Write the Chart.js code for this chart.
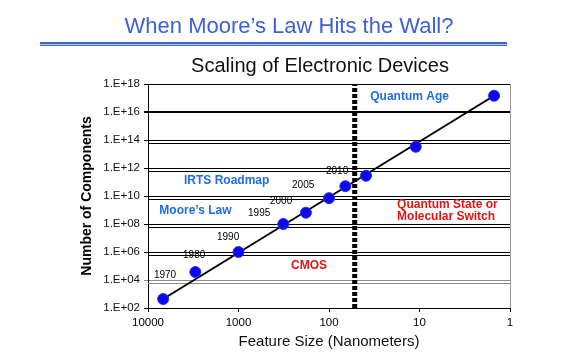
<!DOCTYPE html>
<html>
<head>
<meta charset="utf-8">
<script src="https://cdn.jsdelivr.net/npm/chart.js@4"></script>
<style>
    body { margin: 0; background: #fff; }
    #page {
        position: relative;
        width: 581px;
        height: 359px;
        overflow: hidden;
        font-family: 'Liberation Sans', Arial, sans-serif;
    }
    #page canvas { position: absolute; left: 0; top: 0; }
    #header {
        position: absolute; left: 0; top: 15px; width: 578px;
        text-align: center; font-size: 22px; line-height: 22px; color: #3d5fd9;
    }
    #rule {
        position: absolute; left: 40px; top: 42px; width: 467px; height: 1px;
        border-top: 2px solid #4565c0; border-bottom: 1px solid #4565c0; background: #b8c4ea;
    }
    #title {
        position: absolute; left: 0; top: 55px; width: 640px;
        text-align: center; font-size: 20px; line-height: 20px; color: #111;
    }
</style>
</head>
<body>
<div id="page">
    <canvas id="chart" width="581" height="359"></canvas>
    <div id="header">When Moore’s Law Hits the Wall?</div>
    <div id="rule"></div>
    <div id="title">Scaling of Electronic Devices</div>
</div>
<script>
// Data

const featureSize = [6800, 3000, 1000, 320, 180, 100, 66, 39, 11, 1.5];
const components = [440, 3.7e4, 1e6, 1e8, 6.4e8, 7e9, 5e10, 2.8e11, 3.3e13, 1.45e17];
const trendSize = [6800, 1.5];
const trendCount = [440, 1.45e17];
const wallSize = 52;
const xTicks = [10000, 1000, 100, 10, 1];
const yTicks = [1e2, 1e4, 1e6, 1e8, 1e10, 1e12, 1e14, 1e16, 1e18];

// Notes on the plot (anchored in data space: feature size, components)

const blue = '#1f6ee0';
const red = '#e01515';
const boldFont = 'bold 12px "Liberation Sans", Arial, sans-serif';
const yearFont = '10px "Liberation Sans", Arial, sans-serif';

const notes = [
    { text: 'Quantum Age', x: 35, y: 1.2e17, color: blue, font: boldFont },
    { text: 'IRTS Roadmap', x: 4000, y: 1.2e11, color: blue, font: boldFont },
    { text: 'Moore’s Law', x: 7500, y: 8.5e8, color: blue, font: boldFont },
    { text: 'Quantum State or', x: 17.7, y: 2.3e9, color: red, font: boldFont },
    { text: 'Molecular Switch', x: 17.7, y: 3.2e8, color: red, font: boldFont },
    { text: 'CMOS', x: 263, y: 1e5, color: red, font: boldFont },
    { text: '1970', x: 8600, y: 2.3e4, color: '#000', font: yearFont },
    { text: '1980', x: 4100, y: 6e5, color: '#000', font: yearFont },
    { text: '1990', x: 1730, y: 1.2e7, color: '#000', font: yearFont },
    { text: '1995', x: 785, y: 6e8, color: '#000', font: yearFont },
    { text: '2000', x: 449, y: 4.4e9, color: '#000', font: yearFont },
    { text: '2005', x: 256, y: 6e10, color: '#000', font: yearFont },
    { text: '2010', x: 108, y: 6e11, color: '#000', font: yearFont }
];

// grid rules that look doubled in the original
const doubled = [1e4, 1e6, 1e8, 1e10, 1e12, 1e14];

const decor = {
    id: 'decor',
    beforeDatasetsDraw(chart) {
        const { ctx, chartArea: a, scales: { y } } = chart;
        ctx.save();
        ctx.lineWidth = 1;
        doubled.forEach(v => {
            const p = Math.round(y.getPixelForValue(v) - 0.5) + 3.5;
            ctx.strokeStyle = v === 1e4 ? '#8a8a8a' : '#000';
            ctx.beginPath();
            ctx.moveTo(a.left, p);
            ctx.lineTo(a.right, p);
            ctx.stroke();
        });
        // right border
        ctx.strokeStyle = '#999';
        ctx.beginPath();
        ctx.moveTo(a.right + 0.5, a.top);
        ctx.lineTo(a.right + 0.5, a.bottom);
        ctx.stroke();
        ctx.restore();
    },
    afterDatasetsDraw(chart) {
        const { ctx, scales: { x, y } } = chart;
        ctx.save();
        ctx.textAlign = 'left';
        ctx.textBaseline = 'middle';
        notes.forEach(n => {
            ctx.font = n.font;
            ctx.fillStyle = n.color;
            ctx.fillText(n.text, x.getPixelForValue(n.x), y.getPixelForValue(n.y));
        });
        ctx.restore();
    }
};

// Chart

const config = {
    type: 'scatter',
    data: {
        datasets: [
            {
                label: 'Devices',
                data: featureSize.map((s, i) => ({ x: s, y: components[i] })),
                pointRadius: 5.5,
                pointBackgroundColor: '#0a0ae6',
                pointBorderColor: '#2b2bff',
                pointBorderWidth: 1
            },
            {
                label: 'Trend',
                data: trendSize.map((s, i) => ({ x: s, y: trendCount[i] })),
                showLine: true,
                borderColor: '#000',
                borderWidth: 2,
                pointRadius: 0
            },
            {
                label: 'Wall',
                data: [{ x: wallSize, y: yTicks[0] }, { x: wallSize, y: yTicks[yTicks.length - 1] }],
                showLine: true,
                borderColor: '#000',
                borderWidth: 5,
                borderDash: [4, 2],
                borderCapStyle: 'butt',
                pointRadius: 0
            }
        ]
    },
    options: {
        responsive: false,
        animation: false,
        layout: { padding: { left: 70, right: 71, top: 84, bottom: 0 } },
        plugins: {
            legend: { display: false },
            tooltip: { enabled: false }
        },
        scales: {
            x: {
                type: 'logarithmic',
                reverse: true,
                min: 1,
                max: 10000,
                afterBuildTicks: scale => { scale.ticks = xTicks.map(v => ({ value: v })); },
                afterFit: scale => { scale.height = 51; },
                ticks: {
                    callback: v => String(v),
                    color: '#000',
                    font: { family: '"Liberation Sans", Arial, sans-serif', size: 11.5 },
                    padding: 4,
                    maxRotation: 0,
                    autoSkip: false
                },
                grid: { drawOnChartArea: false, tickLength: 4, color: '#000' },
                border: { color: '#000', width: 1 },
                title: {
                    display: true,
                    text: 'Feature Size (Nanometers)',
                    color: '#111',
                    font: { family: '"Liberation Sans", Arial, sans-serif', size: 15 },
                    padding: { top: 0, bottom: 8 }
                }
            },
            y: {
                type: 'logarithmic',
                min: 1e2,
                max: 1e18,
                afterBuildTicks: scale => { scale.ticks = yTicks.map(v => ({ value: v })); },
                afterFit: scale => { scale.width = 78; },
                ticks: {
                    callback: v => '1.E+' + String(Math.round(Math.log10(v))).padStart(2, '0'),
                    color: '#111',
                    font: { family: '"Liberation Sans", Arial, sans-serif', size: 11.5 },
                    padding: 4,
                    autoSkip: false
                },
                grid: {
                    tickLength: 4,
                    color: c => (c.tick && c.tick.value === 1e4 ? '#8a8a8a' : '#000'),
                    lineWidth: c => (c.tick && c.tick.value === 1e16 ? 2 : 1)
                },
                border: { color: '#000', width: 1 },
                title: {
                    display: true,
                    text: 'Number of Components',
                    color: '#000',
                    font: { family: '"Liberation Sans", Arial, sans-serif', size: 14, weight: 'bold' },
                    padding: { top: 8.6, bottom: 0 }
                }
            }
        }
    },
    plugins: [decor]
};

new Chart(document.getElementById('chart').getContext('2d'), config);
</script>
</body>
</html>
